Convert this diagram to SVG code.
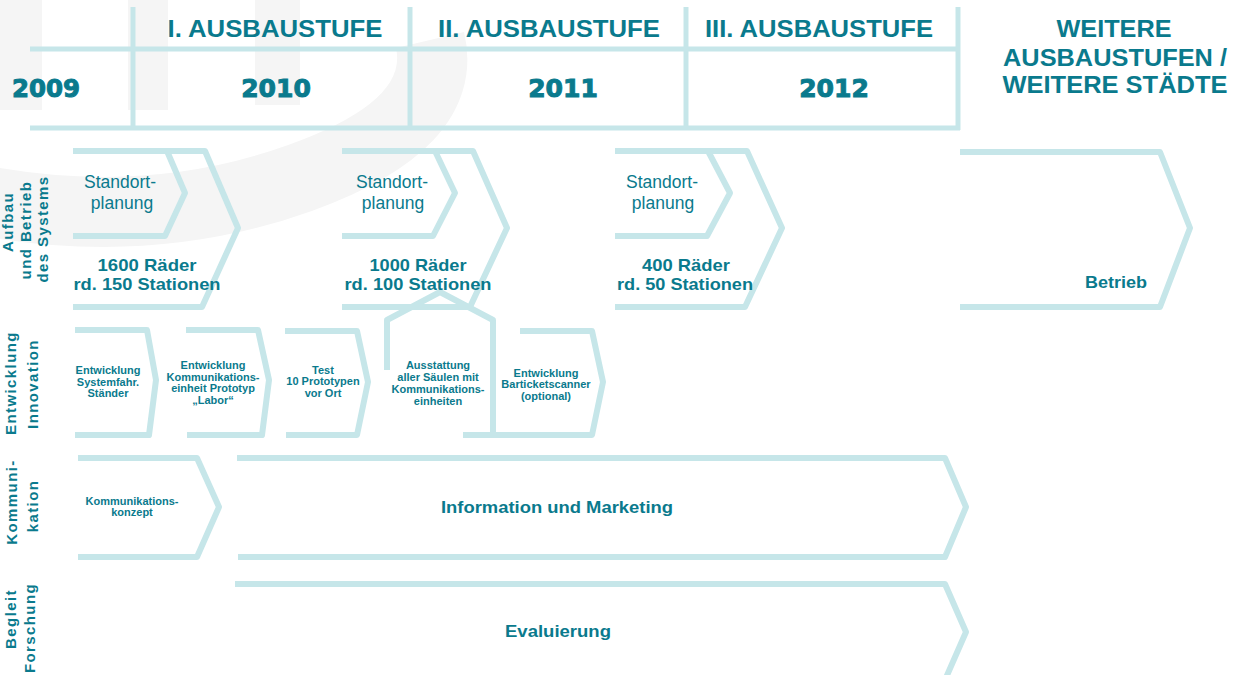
<svg xmlns="http://www.w3.org/2000/svg" width="1239" height="675" viewBox="0 0 1239 675">
<style>
.ln{fill:none;stroke:#C6E6E9;stroke-width:6;stroke-linejoin:round;stroke-linecap:butt}
.hl{fill:none;stroke:#C6E6E9;stroke-width:5}
.t{font-family:"Liberation Sans",Arial,sans-serif;fill:#0A7A8D;text-anchor:middle}
.yr{font-family:"DejaVu Sans","Liberation Sans",sans-serif;font-weight:bold;font-size:25px;fill:#0A7A8D;stroke:#0A7A8D;stroke-width:1;text-anchor:middle}
.hd{font-size:23px;font-weight:bold}
.big{font-size:17px;font-weight:bold}
.reg{font-size:17.5px}
.sm{font-size:11px;font-weight:bold}
.rl{font-size:15px;font-weight:bold;letter-spacing:1.4px}
</style>
<rect width="1239" height="675" fill="#FFFFFF"/>
<g id="watermark" fill="#F5F5F5" stroke="none">
<rect x="0" y="0" width="42" height="110"/>
<rect x="128" y="0" width="40" height="110"/>
<rect x="255" y="0" width="45" height="105"/>
<path d="M -20,200 Q 150,232 300,178 T 430,40" fill="none" stroke="#F5F5F5" stroke-width="70"/>
</g>
<g id="header">
<line class="hl" x1="30" y1="49" x2="960" y2="49"/>
<line class="hl" x1="30" y1="128" x2="960" y2="128"/>
<line class="hl" x1="133" y1="7" x2="133" y2="128"/>
<line class="hl" x1="410" y1="7" x2="410" y2="128"/>
<line class="hl" x1="686" y1="7" x2="686" y2="128"/>
<line class="hl" x1="958" y1="7" x2="958" y2="130"/>
<text class="t hd" x="275" y="37" textLength="215" lengthAdjust="spacingAndGlyphs">I. AUSBAUSTUFE</text>
<text class="t hd" x="549" y="37" textLength="222" lengthAdjust="spacingAndGlyphs">II. AUSBAUSTUFE</text>
<text class="t hd" x="819" y="37" textLength="228" lengthAdjust="spacingAndGlyphs">III. AUSBAUSTUFE</text>
<text class="yr" x="46" y="97" textLength="68" lengthAdjust="spacingAndGlyphs">2009</text>
<text class="yr" x="276" y="97">2010</text>
<text class="yr" x="563" y="97">2011</text>
<text class="yr" x="834" y="97">2012</text>
<text class="t hd" x="1114" y="37" textLength="115" lengthAdjust="spacingAndGlyphs">WEITERE</text>
<text class="t hd" x="1115" y="66" textLength="224" lengthAdjust="spacingAndGlyphs">AUSBAUSTUFEN /</text>
<text class="t hd" x="1115" y="93" textLength="225" lengthAdjust="spacingAndGlyphs">WEITERE STÄDTE</text>
</g>
<g id="row-labels">
<g transform="translate(13,222) rotate(-90)"><text class="t rl" x="0" y="0">Aufbau</text></g>
<g transform="translate(31,230) rotate(-90)"><text class="t rl" x="0" y="0">und Betrieb</text></g>
<g transform="translate(48,229) rotate(-90)"><text class="t rl" x="0" y="0">des Systems</text></g>
<g transform="translate(16,383) rotate(-90)"><text class="t rl" x="0" y="0">Entwicklung</text></g>
<g transform="translate(38,384) rotate(-90)"><text class="t rl" x="0" y="0">Innovation</text></g>
<g transform="translate(17,502) rotate(-90)"><text class="t rl" x="0" y="0">Kommuni-</text></g>
<g transform="translate(38,506) rotate(-90)"><text class="t rl" x="0" y="0">kation</text></g>
<g transform="translate(16,619) rotate(-90)"><text class="t rl" x="0" y="0">Begleit</text></g>
<g transform="translate(35,628) rotate(-90)"><text class="t rl" x="0" y="0">Forschung</text></g>
</g>
<g id="connectors">
<polyline class="ln" points="387,370 387,320 440,292 493,320 493,435"/>
</g>
<g id="stufe1">
<polyline class="ln" points="73,151 205,151 238,228 202,307 73,307"/>
<polyline class="ln" points="167,151 185,193 165,236 73,236"/>
<text class="t reg" x="120" y="188">Standort-</text>
<text class="t reg" x="122" y="209">planung</text>
<text class="t big" x="147" y="271" textLength="99" lengthAdjust="spacingAndGlyphs">1600 Räder</text>
<text class="t big" x="147" y="290" textLength="147" lengthAdjust="spacingAndGlyphs">rd. 150 Stationen</text>
</g>
<g id="stufe2">
<polyline class="ln" points="342,151 473,151 507,228 470,307 342,307"/>
<polyline class="ln" points="435,151 455,193 433,236 342,236"/>
<text class="t reg" x="392" y="188">Standort-</text>
<text class="t reg" x="393" y="209">planung</text>
<text class="t big" x="418" y="271" textLength="97" lengthAdjust="spacingAndGlyphs">1000 Räder</text>
<text class="t big" x="418" y="290" textLength="147" lengthAdjust="spacingAndGlyphs">rd. 100 Stationen</text>
</g>
<g id="stufe3">
<polyline class="ln" points="615,151 747,151 782,228 745,307 615,307"/>
<polyline class="ln" points="708,151 730,193 707,236 615,236"/>
<text class="t reg" x="662" y="188">Standort-</text>
<text class="t reg" x="663" y="209">planung</text>
<text class="t big" x="686" y="271" textLength="88" lengthAdjust="spacingAndGlyphs">400 Räder</text>
<text class="t big" x="685" y="290" textLength="136" lengthAdjust="spacingAndGlyphs">rd. 50 Stationen</text>
</g>
<g id="betrieb">
<polyline class="ln" points="960,152 1160,152 1190,228 1160,307 960,307"/>
<text class="t big" x="1116" y="288" textLength="62" lengthAdjust="spacingAndGlyphs">Betrieb</text>
</g>
<g id="entw-systemfahr">
<polyline class="ln" points="75,330 147,330 156,380 149,435 75,435"/>
<text class="t sm" x="108" y="374">Entwicklung</text>
<text class="t sm" x="108" y="386">Systemfahr.</text>
<text class="t sm" x="108" y="397">Ständer</text>
</g>
<g id="entw-kommunikation">
<polyline class="ln" points="186,330 258,330 269,380 262,435 187,435"/>
<text class="t sm" x="213" y="369">Entwicklung</text>
<text class="t sm" x="213" y="381">Kommunikations-</text>
<text class="t sm" x="213" y="392">einheit Prototyp</text>
<text class="t sm" x="213" y="404">„Labor“</text>
</g>
<g id="test">
<polyline class="ln" points="285,331 357,331 368,382 357,435 286,435"/>
<text class="t sm" x="323" y="374">Test</text>
<text class="t sm" x="323" y="385">10 Prototypen</text>
<text class="t sm" x="323" y="397">vor Ort</text>
</g>
<g id="ausstattung">
<text class="t sm" x="438" y="369">Ausstattung</text>
<text class="t sm" x="438" y="381">aller Säulen mit</text>
<text class="t sm" x="438" y="393">Kommunikations-</text>
<text class="t sm" x="438" y="405">einheiten</text>
</g>
<g id="barticket">
<polyline class="ln" points="520,331 592,331 603,382 592,435 463,435"/>
<text class="t sm" x="546" y="377">Entwicklung</text>
<text class="t sm" x="546" y="388">Barticketscanner</text>
<text class="t sm" x="546" y="400">(optional)</text>
</g>
<g id="konzept">
<polyline class="ln" points="78,458 197,458 219,507 197,557 78,557"/>
<text class="t sm" x="132" y="505">Kommunikations-</text>
<text class="t sm" x="132" y="516">konzept</text>
</g>
<g id="marketing">
<polyline class="ln" points="237,458 945,458 966,507 945,557 238,557"/>
<text class="t big" x="557" y="513" textLength="232" lengthAdjust="spacingAndGlyphs">Information und Marketing</text>
</g>
<g id="evaluierung">
<polyline class="ln" points="235,584 945,584 966,632 945,680"/>
<text class="t big" x="558" y="637" textLength="106" lengthAdjust="spacingAndGlyphs">Evaluierung</text>
</g>
</svg>
